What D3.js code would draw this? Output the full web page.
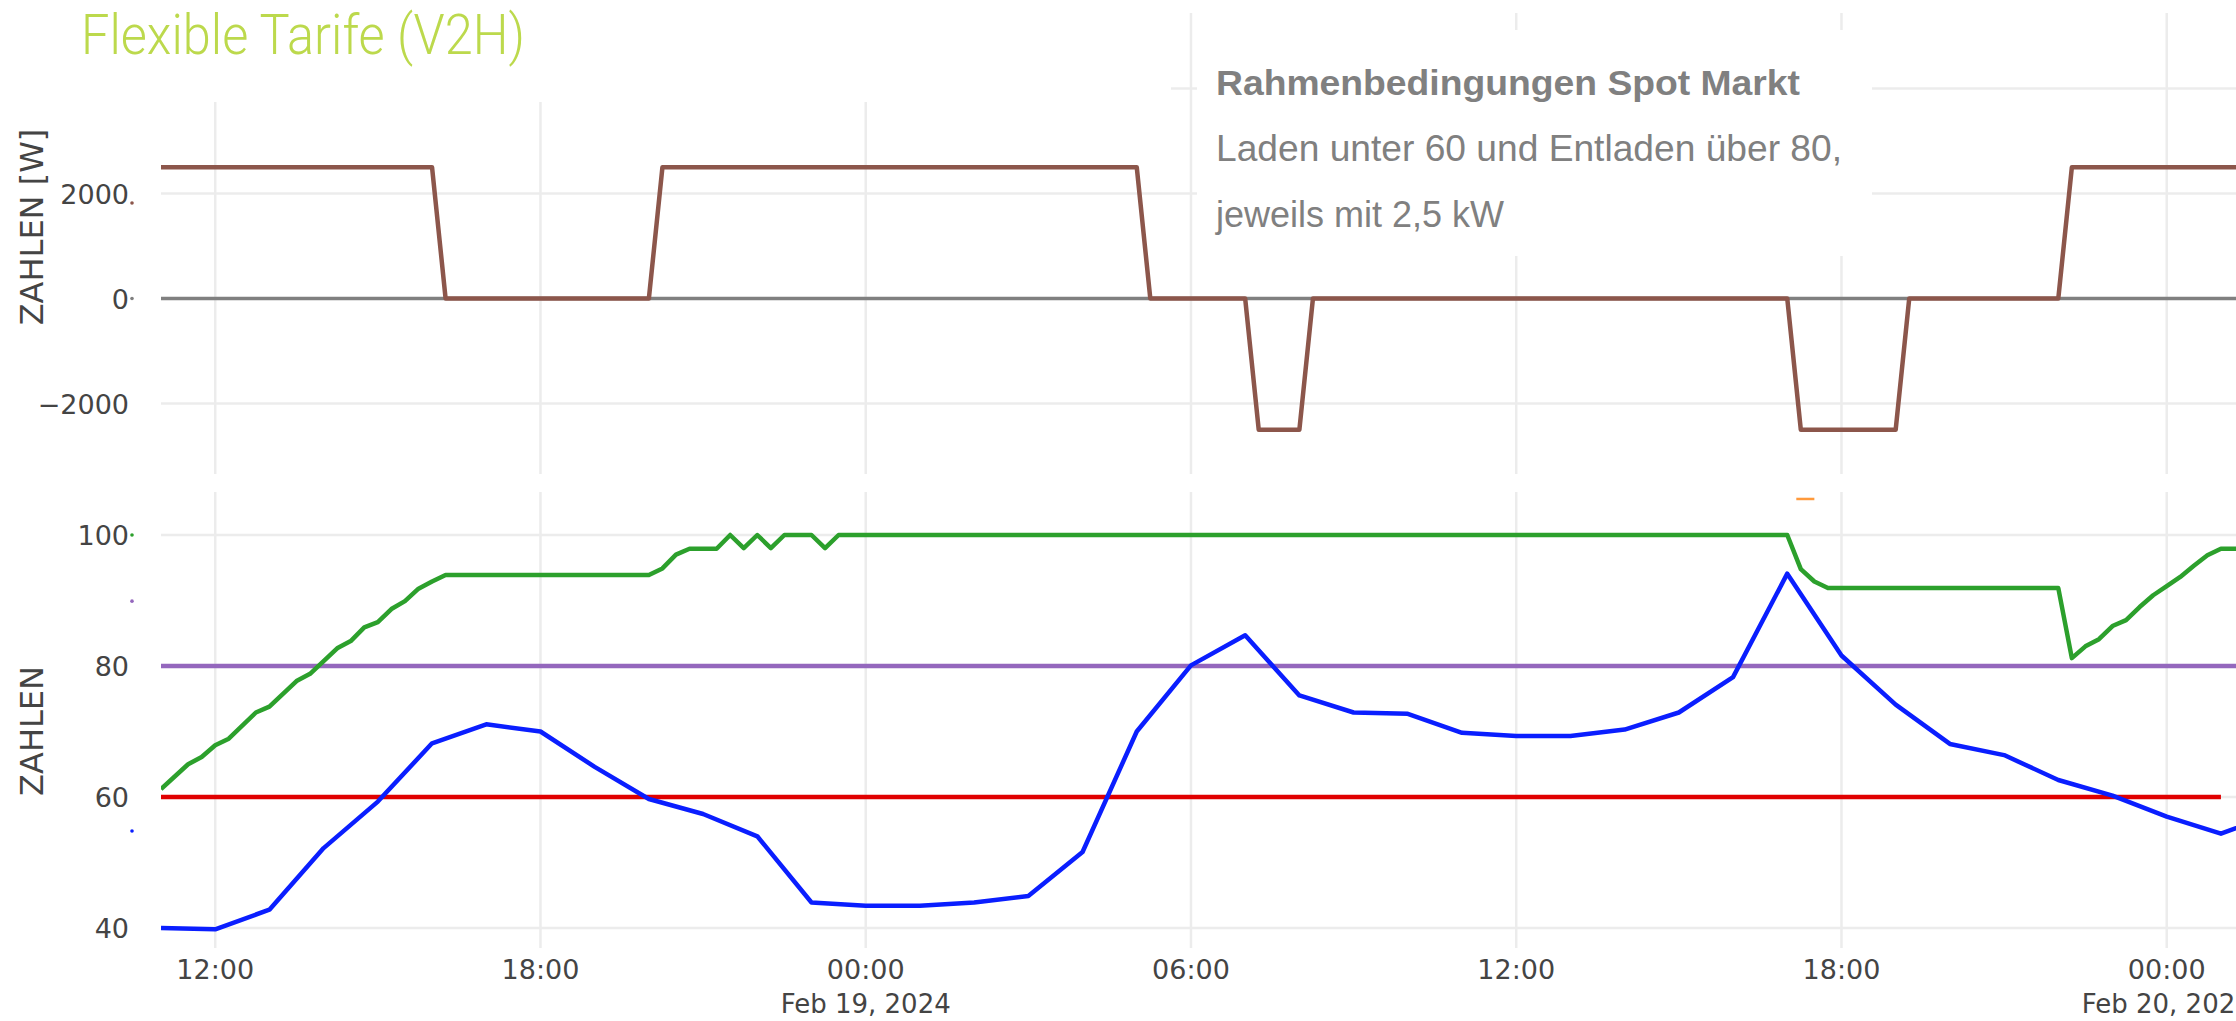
<!DOCTYPE html>
<html>
<head>
<meta charset="utf-8">
<script src="https://cdn.jsdelivr.net/npm/d3@7"></script>
<style>
  body { margin: 0; background: #fff; }
  svg { display: block; }
</style>
</head>
<body>
<svg id="chart" width="2236" height="1021"></svg>
<script>
const parse = d3.timeParse("%Y-%m-%d %H:%M");

// x axis
const xStart = "2024-02-18 11:00";
const xEnd = "2024-02-20 01:20";
const xTicks = ["2024-02-18 12:00", "2024-02-18 18:00", "2024-02-19 00:00", "2024-02-19 06:00",
  "2024-02-19 12:00", "2024-02-19 18:00", "2024-02-20 00:00"];
const xTickLabels = ["12:00", "18:00", "00:00", "06:00", "12:00", "18:00", "00:00"];
const dateTicks = ["2024-02-19 00:00", "2024-02-20 00:00"];
const dateTickLabels = ["Feb 19, 2024", "Feb 20, 2024"];

// top panel: charge / discharge power [W]
const powerTicks = [-2000, 0, 2000];
const powerTickLabels = ["\u22122000", "0", "2000"];
const powerGrid = [-2000, 2000, 4000];
const powerTimes = ["2024-02-18 11:00", "2024-02-18 16:00", "2024-02-18 16:15", "2024-02-18 20:00",
  "2024-02-18 20:15", "2024-02-19 05:00", "2024-02-19 05:15", "2024-02-19 07:00", "2024-02-19 07:15",
  "2024-02-19 08:00", "2024-02-19 08:15", "2024-02-19 17:00", "2024-02-19 17:15", "2024-02-19 19:00",
  "2024-02-19 19:15", "2024-02-19 22:00", "2024-02-19 22:15", "2024-02-20 01:20"];
const powerValues = [2500, 2500, 0, 0, 2500, 2500, 0, 0, -2500, -2500, 0, 0, -2500, -2500, 0, 0, 2500, 2500];

// bottom panel
const valueTicks = [40, 60, 80, 100];
const lowerLimit = 60;
const upperLimit = 80;
const lowerLimitTimes = ["2024-02-18 11:00", "2024-02-20 01:00"];
const upperLimitTimes = ["2024-02-18 11:00", "2024-02-20 01:20"];

// battery state of charge (green)
const socTimes = ["2024-02-18 11:00", "2024-02-18 11:30", "2024-02-18 11:45", "2024-02-18 12:00",
  "2024-02-18 12:15", "2024-02-18 12:45", "2024-02-18 13:00", "2024-02-18 13:30", "2024-02-18 13:45",
  "2024-02-18 14:15", "2024-02-18 14:30", "2024-02-18 14:45", "2024-02-18 15:00", "2024-02-18 15:15",
  "2024-02-18 15:30", "2024-02-18 15:45", "2024-02-18 16:00", "2024-02-18 16:15", "2024-02-18 20:00",
  "2024-02-18 20:15", "2024-02-18 20:30", "2024-02-18 20:45", "2024-02-18 21:15", "2024-02-18 21:30",
  "2024-02-18 21:45", "2024-02-18 22:00", "2024-02-18 22:15", "2024-02-18 22:30", "2024-02-18 23:00",
  "2024-02-18 23:15", "2024-02-18 23:30", "2024-02-19 17:00", "2024-02-19 17:15", "2024-02-19 17:30",
  "2024-02-19 17:45", "2024-02-19 22:00", "2024-02-19 22:15", "2024-02-19 22:30", "2024-02-19 22:45",
  "2024-02-19 23:00", "2024-02-19 23:15", "2024-02-19 23:30", "2024-02-19 23:45", "2024-02-20 00:00",
  "2024-02-20 00:15", "2024-02-20 00:30", "2024-02-20 00:45", "2024-02-20 01:00", "2024-02-20 01:20"];
const socValues = [61.2, 65.0, 66.1, 67.9, 68.9, 72.9, 73.8, 77.7, 78.8, 82.7, 83.8, 85.9, 86.7, 88.7,
  89.9, 91.8, 92.9, 93.9, 93.9, 94.9, 97.0, 97.9, 97.9, 100, 98, 100, 98, 100, 100,
  98, 100, 100, 94.8, 92.9, 91.9, 91.9, 81.2, 83.0, 84.1,
  86.1, 87.0, 89.0, 90.8, 92.2, 93.6, 95.3, 96.9, 97.9, 97.9];

// spot price (blue), hourly
const priceTimes = ["2024-02-18 11:00", "2024-02-18 12:00", "2024-02-18 13:00", "2024-02-18 14:00",
  "2024-02-18 15:00", "2024-02-18 16:00", "2024-02-18 17:00", "2024-02-18 18:00", "2024-02-18 19:00",
  "2024-02-18 20:00", "2024-02-18 21:00", "2024-02-18 22:00", "2024-02-18 23:00", "2024-02-19 00:00",
  "2024-02-19 01:00", "2024-02-19 02:00", "2024-02-19 03:00", "2024-02-19 04:00", "2024-02-19 05:00",
  "2024-02-19 06:00", "2024-02-19 07:00", "2024-02-19 08:00", "2024-02-19 09:00", "2024-02-19 10:00",
  "2024-02-19 11:00", "2024-02-19 12:00", "2024-02-19 13:00", "2024-02-19 14:00", "2024-02-19 15:00",
  "2024-02-19 16:00", "2024-02-19 17:00", "2024-02-19 18:00", "2024-02-19 19:00", "2024-02-19 20:00",
  "2024-02-19 21:00", "2024-02-19 22:00", "2024-02-19 23:00", "2024-02-20 00:00", "2024-02-20 01:00",
  "2024-02-20 02:00"];
const priceValues = [40.0, 39.8, 42.8, 52.2, 59.3, 68.2, 71.1, 70.0, 64.6, 59.7, 57.4, 54.0, 43.9, 43.4,
  43.4, 43.9, 44.9, 51.6, 70.0, 80.1, 84.7, 75.5, 72.9, 72.7, 69.8, 69.3, 69.3, 70.3, 72.9,
  78.3, 94.1, 81.6, 74.1, 68.1, 66.4, 62.6, 60.2, 57.0, 54.4, 57.5];

// small orange trace peeking in at the top edge
const extraTimes = ["2024-02-19 17:10", "2024-02-19 17:30"];
const extraValues = [105.5, 105.5];

const svg = d3.select("#chart");
const W = 2236;

const x = d3.scaleTime()
  .domain([parse(xStart), parse(xEnd)])
  .range([161, 2239]);

const yTop = d3.scaleLinear().domain([-2000, 2000]).range([403.5, 193.5]);
const yBot = d3.scaleLinear().domain([40, 100]).range([928, 535]);

const topPanel = { y0: 13, y1: 474 };
const botPanel = { y0: 492, y1: 948 };

const defs = svg.append("defs");
defs.append("clipPath").attr("id", "clipTop")
  .append("rect").attr("x", 161).attr("y", topPanel.y0).attr("width", W - 161).attr("height", topPanel.y1 - topPanel.y0);
defs.append("clipPath").attr("id", "clipBot")
  .append("rect").attr("x", 161).attr("y", botPanel.y0).attr("width", W - 161).attr("height", botPanel.y1 - botPanel.y0);

const gridColor = "#ececec";
const lw = 4.5;

// ---- grids
const gTopGrid = svg.append("g");
gTopGrid.selectAll("line.v")
  .data(xTicks)
  .join("line")
  .attr("class", "v")
  .attr("x1", d => x(parse(d))).attr("x2", d => x(parse(d)))
  .attr("y1", topPanel.y0).attr("y2", topPanel.y1)
  .attr("stroke", gridColor).attr("stroke-width", 2.5);
gTopGrid.selectAll("line.h")
  .data(powerGrid)
  .join("line")
  .attr("class", "h")
  .attr("x1", 161).attr("x2", W)
  .attr("y1", d => yTop(d)).attr("y2", d => yTop(d))
  .attr("stroke", gridColor).attr("stroke-width", 2.5);

const gBotGrid = svg.append("g");
gBotGrid.selectAll("line.v")
  .data(xTicks)
  .join("line")
  .attr("class", "v")
  .attr("x1", d => x(parse(d))).attr("x2", d => x(parse(d)))
  .attr("y1", botPanel.y0).attr("y2", botPanel.y1)
  .attr("stroke", gridColor).attr("stroke-width", 2.5);
gBotGrid.selectAll("line.h")
  .data(valueTicks)
  .join("line")
  .attr("class", "h")
  .attr("x1", 161).attr("x2", W)
  .attr("y1", d => yBot(d)).attr("y2", d => yBot(d))
  .attr("stroke", gridColor).attr("stroke-width", 2.5);

// white area behind the title and the note box
svg.append("rect").attr("x", 0).attr("y", 0).attr("width", 1171).attr("height", 102).attr("fill", "#fff");
svg.append("rect").attr("x", 1197).attr("y", 30).attr("width", 675).attr("height", 226).attr("fill", "#fff");

// ---- top panel lines
const lineTop = d3.line()
  .x(d => x(parse(d[0])))
  .y(d => yTop(d[1]));

const gTop = svg.append("g").attr("clip-path", "url(#clipTop)");
gTop.append("path")
  .attr("d", lineTop([[xStart, 0], [xEnd, 0]]))
  .attr("fill", "none").attr("stroke", "#808080").attr("stroke-width", 3.5);
gTop.append("path")
  .attr("d", lineTop(d3.zip(powerTimes, powerValues)))
  .attr("fill", "none").attr("stroke", "#8c564b").attr("stroke-width", lw)
  .attr("stroke-linejoin", "round");

// ---- bottom panel lines
const lineBot = d3.line()
  .x(d => x(parse(d[0])))
  .y(d => yBot(d[1]));

const gBot = svg.append("g").attr("clip-path", "url(#clipBot)");
gBot.append("path")
  .attr("d", lineBot(upperLimitTimes.map(t => [t, upperLimit])))
  .attr("fill", "none").attr("stroke", "#9467bd").attr("stroke-width", lw);
gBot.append("path")
  .attr("d", lineBot(lowerLimitTimes.map(t => [t, lowerLimit])))
  .attr("fill", "none").attr("stroke", "#e00000").attr("stroke-width", lw);
gBot.append("path")
  .attr("d", lineBot(d3.zip(socTimes, socValues)))
  .attr("fill", "none").attr("stroke", "#2ca02c").attr("stroke-width", lw)
  .attr("stroke-linejoin", "round");
gBot.append("path")
  .attr("d", lineBot(d3.zip(priceTimes, priceValues)))
  .attr("fill", "none").attr("stroke", "#0a1eff").attr("stroke-width", lw)
  .attr("stroke-linejoin", "round");
gBot.append("path")
  .attr("d", lineBot(d3.zip(extraTimes, extraValues)))
  .attr("fill", "none").attr("stroke", "#ff9a3c").attr("stroke-width", 2.5);

// ---- axes text
const tickFont = "DejaVu Sans";
const textColor = "#444";

svg.append("g").selectAll("text")
  .data(d3.zip(powerTicks, powerTickLabels))
  .join("text")
  .attr("x", 129)
  .attr("y", d => yTop(d[0]) + 10)
  .attr("text-anchor", "end")
  .attr("font-family", tickFont).attr("font-size", 27).attr("fill", textColor)
  .text(d => d[1]);

svg.append("g").selectAll("text")
  .data(valueTicks)
  .join("text")
  .attr("x", 129)
  .attr("y", d => yBot(d) + 10)
  .attr("text-anchor", "end")
  .attr("font-family", tickFont).attr("font-size", 27).attr("fill", textColor)
  .text(d => d);

// tiny legend dots next to the tick labels
const dots = [[yTop(1820), "#8c564b"], [yTop(0), "#7f7f7f"], [yBot(100), "#2ca02c"],
  [yBot(89.9), "#9467bd"], [yBot(54.8), "#0a1eff"]];
svg.append("g").selectAll("circle")
  .data(dots)
  .join("circle")
  .attr("cx", 132).attr("cy", d => d[0]).attr("r", 1.8)
  .attr("fill", d => d[1]);

svg.append("g").selectAll("text")
  .data(d3.zip(xTicks, xTickLabels))
  .join("text")
  .attr("x", d => x(parse(d[0])))
  .attr("y", 979)
  .attr("text-anchor", "middle")
  .attr("font-family", tickFont).attr("font-size", 27).attr("fill", textColor)
  .text(d => d[1]);

svg.append("g").selectAll("text")
  .data(d3.zip(dateTicks, dateTickLabels))
  .join("text")
  .attr("x", d => x(parse(d[0])))
  .attr("y", 1013)
  .attr("text-anchor", "middle")
  .attr("font-family", tickFont).attr("font-size", 26).attr("fill", textColor)
  .text(d => d[1]);

svg.append("text")
  .attr("transform", "translate(43,227) rotate(-90)")
  .attr("text-anchor", "middle")
  .attr("font-family", tickFont).attr("font-size", 32).attr("fill", textColor)
  .text("ZAHLEN [W]");

svg.append("text")
  .attr("transform", "translate(43,731) rotate(-90)")
  .attr("text-anchor", "middle")
  .attr("font-family", tickFont).attr("font-size", 32).attr("fill", textColor)
  .text("ZAHLEN");

// ---- title and note
svg.append("text")
  .attr("x", 81).attr("y", 54)
  .attr("font-family", "Roboto").attr("font-weight", 300).attr("font-size", 56)
  .attr("fill", "#bcd94c")
  .attr("textLength", 444).attr("lengthAdjust", "spacingAndGlyphs")
  .text("Flexible Tarife (V2H)");

const note = svg.append("g")
  .attr("font-family", "Liberation Sans, Arial, sans-serif")
  .attr("fill", "#808080");
note.append("text")
  .attr("x", 1216).attr("y", 95)
  .attr("font-weight", "bold").attr("font-size", 35)
  .attr("textLength", 584).attr("lengthAdjust", "spacingAndGlyphs")
  .text("Rahmenbedingungen Spot Markt");
note.append("text")
  .attr("x", 1216).attr("y", 161)
  .attr("font-size", 36)
  .attr("textLength", 626).attr("lengthAdjust", "spacingAndGlyphs")
  .text("Laden unter 60 und Entladen über 80,");
note.append("text")
  .attr("x", 1216).attr("y", 227)
  .attr("font-size", 36)
  .text("jeweils mit 2,5 kW");
</script>
</body>
</html>
